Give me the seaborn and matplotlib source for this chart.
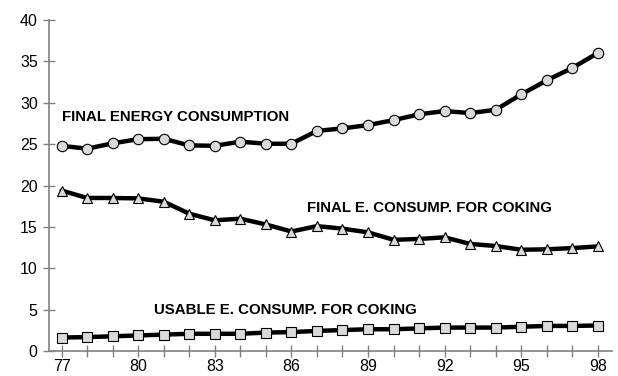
"""Final energy consumption and coking energy, 1977-1998."""

import matplotlib.pyplot as plt
import pandas as pd
import seaborn as sns

years = list(range(77, 99))
final_energy = [24.8, 24.45, 25.1, 25.6, 25.65, 24.85, 24.8, 25.3, 25.05, 25.05, 26.6,
                26.9, 27.3, 27.9, 28.6, 29.0, 28.75, 29.15, 31.0, 32.7, 34.2, 36.0]
final_coking = [19.4, 18.5, 18.5, 18.45, 18.05, 16.6, 15.8, 16.0, 15.3, 14.45, 15.1,
                14.8, 14.35, 13.45, 13.55, 13.75, 12.95, 12.7, 12.25, 12.3, 12.45, 12.65]
usable_coking = [1.65, 1.7, 1.8, 1.9, 2.0, 2.1, 2.1, 2.1, 2.25, 2.3, 2.45,
                 2.55, 2.65, 2.65, 2.75, 2.85, 2.85, 2.85, 2.95, 3.05, 3.05, 3.1]
series_names = ["FINAL ENERGY CONSUMPTION", "FINAL E. CONSUMP. FOR COKING",
                "USABLE E. CONSUMP. FOR COKING"]
xtick_labels = ["77", "80", "83", "86", "89", "92", "95", "98"]

df = pd.concat([
    pd.DataFrame({"year": years, "value": vals, "series": name})
    for name, vals in zip(series_names, [final_energy, final_coking, usable_coking])
])

sns.set_style("white")
plt.rcParams["font.family"] = ["Liberation Sans", "DejaVu Sans"]

fig = plt.figure(figsize=(6.18, 3.76), dpi=100)
ax = fig.add_axes([0.079, 0.066, 0.911, 0.881])

sns.lineplot(data=df, x="year", y="value", hue="series", style="series",
             markers={series_names[0]: "o", series_names[1]: "^", series_names[2]: "s"},
             dashes=False, palette=["black"] * 3, linewidth=3.2, markersize=7.5,
             markerfacecolor="#d9d9d9", markeredgecolor="black", markeredgewidth=0.8,
             legend=False, ax=ax)

# inline series labels
label_kw = dict(fontsize=10.8, weight="bold", va="center", color="black")
ax.text(77, 28.3, series_names[0], **label_kw)
ax.text(86.6, 17.3, series_names[1], **label_kw)
ax.text(80.6, 4.95, series_names[2], **label_kw)

ax.set_xlim(76.5, 98.55)
ax.set_ylim(0, 40)
ax.set_xticks(years)
ax.set_xticklabels([str(y) if str(y) in xtick_labels else "" for y in years])
ax.set_yticks(range(0, 41, 5))
ax.set_xlabel("")
ax.set_ylabel("")
for side in ["top", "right"]:
    ax.spines[side].set_visible(False)
for side in ["left", "bottom"]:
    ax.spines[side].set_color("#808080")
    ax.spines[side].set_linewidth(1.2)
ax.tick_params(axis="both", direction="inout", length=9, width=1, color="#808080",
               labelsize=11.5, labelcolor="black", bottom=True, left=True)
ax.tick_params(axis="x", pad=1)

fig.savefig("out.png", dpi=100)
